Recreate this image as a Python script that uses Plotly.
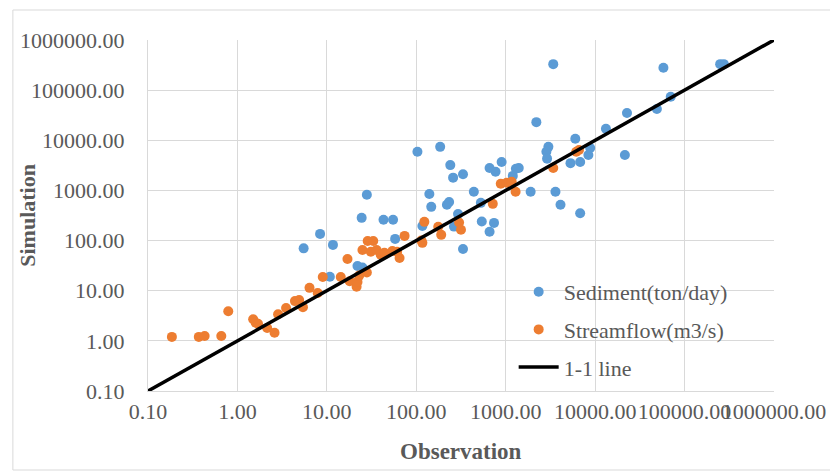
import plotly.graph_objects as go

# ---------------- data ----------------
sed_obs = [3400, 58000, 250000, 275000, 70000, 49000, 22700, 13200, 2200, 6000,
           3000, 2850, 2900, 5300, 6800, 8400, 8800, 21500, 1900, 3600,
           4100, 6800, 1400, 1200, 1300, 900, 660, 770, 540, 740,
           660, 103, 185, 240, 258, 333, 440, 140, 147, 220,
           233, 293, 527, 264, 333, 55, 43, 58, 117, 28,
           24.5, 8.4, 5.5, 11.7, 22, 25, 10.8]
sed_sim = [330000, 280000, 330000, 330000, 74000, 42000, 35000, 17000, 23000, 10700,
           7400, 5900, 4300, 3500, 3700, 5100, 7000, 5100, 940, 940,
           520, 350, 2800, 1950, 2700, 3700, 2800, 2350, 240, 225,
           150, 5900, 7400, 3200, 1800, 2100, 940, 850, 470, 520,
           590, 340, 565, 190, 68, 260, 260, 108, 196, 820,
           284, 136, 70, 82, 31, 29, 19]

flow_obs = [0.185, 0.37, 0.43, 0.66, 0.79, 1.5, 1.6, 1.7, 2.15, 2.6,
            2.85, 3.5, 4.9, 5.4, 4.4, 6.4, 7.9, 9.0, 14.3, 17,
            18, 21.5, 22, 25, 28.6, 33, 31, 36, 40, 28,
            23, 44, 61, 65, 54, 74, 114, 117, 123, 176,
            190, 301, 316, 717, 880, 1025, 1166, 1290, 3400, 6150,
            6600]
flow_sim = [1.2, 1.2, 1.25, 1.25, 3.9, 2.7, 2.3, 2.2, 1.8, 1.45,
            3.4, 4.5, 6.5, 4.7, 6.2, 11.4, 9.0, 18.8, 18.8, 43,
            15.5, 12, 15, 65, 98, 98, 60, 65, 52, 23,
            20, 57, 60, 45, 62, 124, 100, 90, 236, 188,
            130, 230, 164, 540, 1355, 1420, 1490, 940, 2800, 5900,
            6400]

line_x = [0.1, 1000000]
line_y = [0.1, 1000000]

tick_vals = [0.1, 1, 10, 100, 1000, 10000, 100000, 1000000]
tick_text = ["0.10", "1.00", "10.00", "100.00", "1000.00", "10000.00",
             "100000.00", "1000000.00"]

series_names = ["Sediment(ton/day)", "Streamflow(m3/s)", "1-1 line"]
x_title = "Observation"
y_title = "Simulation"

# ---------------- style ----------------
FONT = "Liberation Serif"
TXT = "#595959"
GRID = "#d9d9d9"
BLUE = "#5B9BD5"
ORANGE = "#ED7D31"

fig = go.Figure()
fig.add_trace(go.Scatter(x=sed_obs, y=sed_sim, mode="markers", name=series_names[0],
                         legendgroup="a",
                         marker=dict(color=BLUE, size=10, line=dict(width=0))))
fig.add_trace(go.Scatter(x=flow_obs, y=flow_sim, mode="markers", name=series_names[1],
                         legendgroup="b",
                         marker=dict(color=ORANGE, size=10, line=dict(width=0))))
fig.add_trace(go.Scatter(x=line_x, y=line_y, mode="lines", name=series_names[2],
                         legendgroup="c",
                         line=dict(color="black", width=3.5)))

axis_common = dict(
    type="log", range=[-1, 6], tickmode="array", tickvals=tick_vals, ticktext=tick_text,
    showgrid=True, gridcolor=GRID, gridwidth=1.3, zeroline=False,
    showline=True, linecolor=GRID, linewidth=1.3,
    tickfont=dict(family=FONT, size=22, color=TXT), tickangle=0,
    ticks="", fixedrange=True,
)
fig.update_xaxes(**axis_common, ticklabelstandoff=0)
fig.update_yaxes(**axis_common, ticklabelstandoff=18)

# page body has an 8px margin, so the figure is offset by 8px
OFF = 8
W0, H0 = 630.0, 351.0  # plot area size in px
def px(xp):
    return (xp - 147) / W0
def py(yp):
    return (391 - yp) / H0

fig.update_layout(
    width=838 - OFF, height=475 - OFF,
    margin=dict(l=147 - OFF, r=838 - 777, t=40 - OFF, b=475 - 391, pad=0),
    paper_bgcolor="white", plot_bgcolor="white",
    font=dict(family=FONT, color=TXT),
    showlegend=True,
    legend=dict(x=px(515), y=py(271), xanchor="left", yanchor="top",
                bgcolor="rgba(0,0,0,0)", font=dict(family=FONT, size=22, color=TXT),
                tracegroupgap=6, itemwidth=40, traceorder="grouped"),
    shapes=[
        dict(type="rect", xref="paper", yref="paper", x0=px(475), x1=px(777),
             y0=py(385), y1=py(273), fillcolor="white", line=dict(width=0), layer="between"),
        dict(type="rect", xref="paper", yref="paper", x0=px(11), x1=px(836),
             y0=py(470), y1=py(10), fillcolor="rgba(0,0,0,0)",
             line=dict(color=GRID, width=1), layer="above"),
    ],
    annotations=[
        dict(text="<b>%s</b>" % y_title, xref="paper", yref="paper", x=px(25), y=py(215),
             textangle=-90, showarrow=False, font=dict(family=FONT, size=22, color=TXT),
             xanchor="center", yanchor="middle"),
        dict(text="<b>%s</b>" % x_title, xref="paper", yref="paper", x=px(462), y=py(451),
             showarrow=False, font=dict(family=FONT, size=23, color=TXT),
             xanchor="center", yanchor="middle"),
    ],
)

fig.write_html("out.html")
